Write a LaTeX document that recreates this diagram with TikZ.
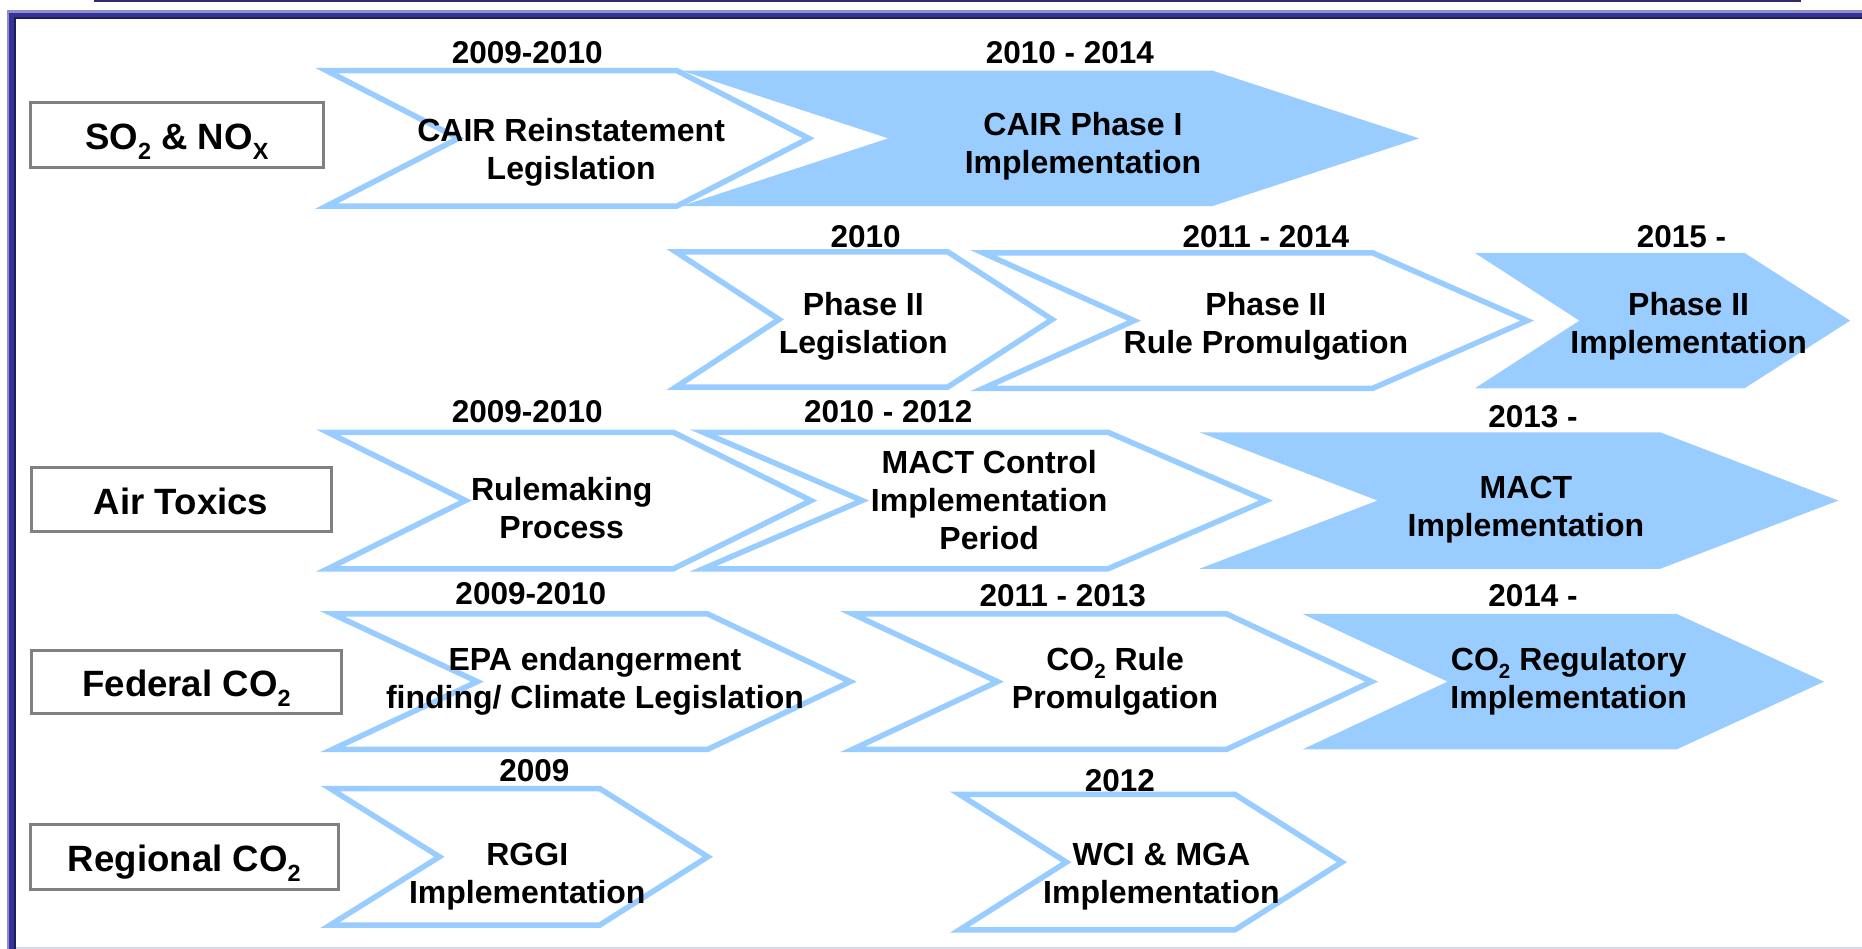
\documentclass[tikz,border=0pt]{standalone}
\usepackage{fontspec}
\setmainfont{Liberation Sans}
\usepackage{graphicx}

\definecolor{chevblue}{HTML}{99CCFF}
\definecolor{boxgray}{HTML}{808080}
\definecolor{framelav}{HTML}{8E8EC8}
\definecolor{framenavy}{HTML}{333399}
\definecolor{framedark}{HTML}{1E1E5A}
\definecolor{framepale}{HTML}{D8D8EE}
\definecolor{topnavy}{HTML}{2E2E6A}

% lowered, reduced index (SO2, NOx, CO2)
\newcommand\lowsub[1]{\raisebox{-0.27em}{\scalebox{0.64}{#1}}}

% chevron outline: #1 style, #2 left x, #3 notch x, #4 shoulder x, #5 tip x, #6 top y, #7 bottom y
\newcommand\chevshape[7]{%
  \path[#1] (#2,#6) -- (#4,#6) -- (#5,{(#6+#7)/2}) -- (#4,#7) -- (#2,#7) -- (#3,{(#6+#7)/2}) -- cycle;}

\begin{document}
\begin{tikzpicture}[x=1.1875pt,y=-1.1875pt,
  outl/.style={draw=chevblue,line width=5.5pt,line join=miter,fill=white},
  solidchev/.style={fill=chevblue},
  body/.style={font=\fontsize{32}{38}\selectfont\bfseries,align=center,inner sep=0pt},
  yr/.style={font=\fontsize{31.5}{36}\selectfont\bfseries,inner sep=0pt},
  rowlabel/.style={draw=boxgray,line width=3pt,fill=white,inner sep=0pt,
    text height=38pt,text depth=9pt,
    font=\fontsize{36.6}{42}\selectfont\bfseries}]
\useasboundingbox (0,0) rectangle (1568,799);
\clip (0,0) rectangle (1568,799);

% page frame
\fill[topnavy] (79,0) rectangle (1517,1.3);
\fill[framelav] (5.9,8.4) rectangle (1580,810);
\fill[framenavy] (7.6,10.9) rectangle (1580,810);
\fill[framedark] (11.8,14.3) rectangle (1580,810);
\fill[white] (13.5,16) rectangle (1580,797.6);
\fill[framepale] (13.5,797.6) rectangle (1580,810);

% row labels
\node[rowlabel,minimum width=293pt,minimum height=65pt] (so2) at (149,113.6) {SO\lowsub{2} \& NO\lowsub{X}};
\node[rowlabel,minimum width=300pt,minimum height=64pt] (tox) at (152.5,421) {Air Toxics};
\node[rowlabel,minimum width=310pt,minimum height=63pt] (fed) at (157,574.5) {Federal CO\lowsub{2}};
\node[rowlabel,minimum width=308pt,minimum height=65pt] (reg) at (155.2,721.5) {Regional CO\lowsub{2}};

% SO2 & NOx
\chevshape{solidchev}{574}{748}{1021}{1195}{59.5}{173.5}
\chevshape{outl}{275}{386}{570}{681}{59.5}{173.5}
% Phase II
\chevshape{outl}{569}{656}{798}{886}{212}{326}
\chevshape{outl}{828}{955}{1156}{1286}{213}{327}
\chevshape{solidchev}{1242}{1330}{1469}{1558}{213}{327}
% Air toxics
\chevshape{outl}{276}{392}{567}{683}{364}{479}
\chevshape{outl}{592}{726}{933}{1066}{364}{479}
\chevshape{solidchev}{1010}{1160}{1398}{1548}{364}{479}
% Federal CO2
\chevshape{outl}{280}{402}{596}{716}{517}{631}
\chevshape{outl}{718}{840}{1033}{1155}{517}{631}
\chevshape{solidchev}{1097}{1219}{1412}{1536}{517}{631}
% Regional CO2
\chevshape{outl}{278}{370}{505}{596}{664}{779}
\chevshape{outl}{808}{898}{1040}{1130}{669}{783}

% stage texts
\node[body] (cairleg) at (481,128.5) {CAIR Reinstatement\\Legislation};
\node[body] (cairimp) at (912,123) {CAIR Phase I\\Implementation};
\node[body] (p2leg) at (727,275) {Phase II\\Legislation};
\node[body] (p2rule) at (1066,275) {Phase II\\Rule Promulgation};
\node[body] (p2imp) at (1422,275) {Phase II\\Implementation};
\node[body] (rulemk) at (473,428) {Rulemaking\\Process};
\node[body] (mactctl) at (833,421) {MACT Control\\Implementation\\Period};
\node[body] (mactimp) at (1285,429) {MACT\\Implementation};
\node[body] (epa) at (501,573.5) {EPA endangerment\\finding/ Climate Legislation};
\node[body] (co2rule) at (939,573.5) {CO\lowsub{2} Rule\\Promulgation};
\node[body] (co2reg) at (1321,573.5) {CO\lowsub{2} Regulatory\\Implementation};
\node[body] (rggi) at (444,738) {RGGI\\Implementation};
\node[body] (wci) at (978,738) {WCI \& MGA\\Implementation};

% years
\node[yr] (y1a) at (444,44) {2009-2010};
\node[yr] (y1b) at (901,44) {2010 - 2014};
\node[yr] (y2a) at (729,199) {2010};
\node[yr] (y2b) at (1066,199) {2011 - 2014};
\node[yr] (y2c) at (1416,199) {2015 -};
\node[yr] (y3a) at (444,347) {2009-2010};
\node[yr] (y3b) at (748,347) {2010 - 2012};
\node[yr] (y3c) at (1291,351) {2013 -};
\node[yr] (y4a) at (447,500) {2009-2010};
\node[yr] (y4b) at (895,502) {2011 - 2013};
\node[yr] (y4c) at (1291,502) {2014 -};
\node[yr] (y5a) at (450,649) {2009};
\node[yr] (y5b) at (943,657) {2012};
\end{tikzpicture}
\end{document}
